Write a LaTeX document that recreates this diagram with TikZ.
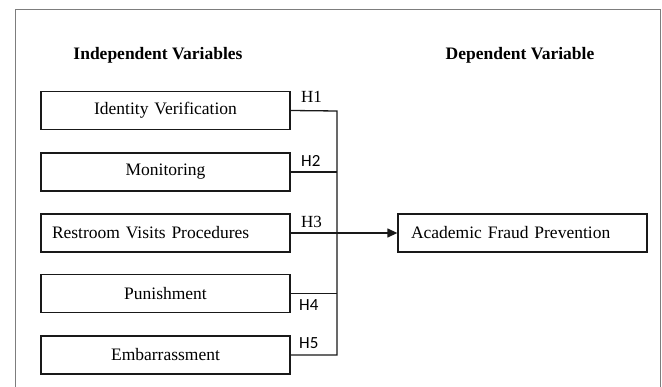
\documentclass[tikz,border=0pt]{standalone}
\usepackage{fontspec}
\setmainfont{Liberation Serif}
\newfontfamily\calib{Carlito}
\usepackage{xcolor}
\definecolor{Frame}{RGB}{125,125,125}
\definecolor{Ink}{RGB}{25,25,25}
\usepackage{tikz}
\usetikzlibrary{arrows.meta}
\tikzstyle{Var}=[draw=Ink,line width=1.3pt,minimum height=38pt,inner xsep=11pt,
inner ysep=0pt,text width=227pt,font=\fontsize{17.5}{21}\selectfont]
\tikzstyle{Head}=[font=\fontsize{17.5}{21}\selectfont\bfseries]
\tikzstyle{Hyp}=[anchor=west,inner sep=0pt,font=\fontsize{17}{20}\selectfont]
\tikzstyle{HypS}=[Hyp,font=\fontsize{17}{20}\selectfont\calib]
\tikzstyle{Edge}=[draw=Ink,line width=1.3pt]

\begin{document}
\begin{tikzpicture}[x=1pt,y=-1pt]
        \useasboundingbox(0,0)rectangle(662,387);
        \draw[Frame,line width=1pt](15,390)--(15,10)--(660,10)--(660,390);
        \node[Head](hi)at(158,55){Independent Variables};
        \node[Head](hd)at(520,55){Dependent Variable};
        \node[Var,align=center](iv1)at(165.5,110.5){Identity Verification};
        \node[Var,align=center](iv2)at(165.5,172){Monitoring};
        \node[Var,align=left](iv3)at(165.5,233){Restroom Visits Procedures};
        \node[Var,align=center](iv4)at(165.5,293.5){Punishment};
        \node[Var,align=center](iv5)at(165.5,355){Embarrassment};
        \node[Var,align=left,inner xsep=13pt,text width=223pt](dv)
            at(522.5,233){Academic Fraud Prevention};
        \coordinate(j1)at(337,111);
        \coordinate(j5)at(337,355);
        \draw[Edge](iv1.east)--(j1)--(j5)--(iv5.east);
        \draw[Edge](iv2.east)--(iv2.east-|j1);
        \draw[Edge](iv4.east)--(iv4.east-|j1);
        \draw[Edge,-{Triangle[length=10pt,width=9pt]}](iv3.east)--(dv.west);
        \node[Hyp](h1)at(301,97){H1};
        \node[HypS](h2)at(301,161){H2};
        \node[Hyp](h3)at(301,222){H3};
        \node[HypS](h4)at(299,305){H4};
        \node[HypS](h5)at(299,343){H5};
    \end{tikzpicture}
\end{document}
